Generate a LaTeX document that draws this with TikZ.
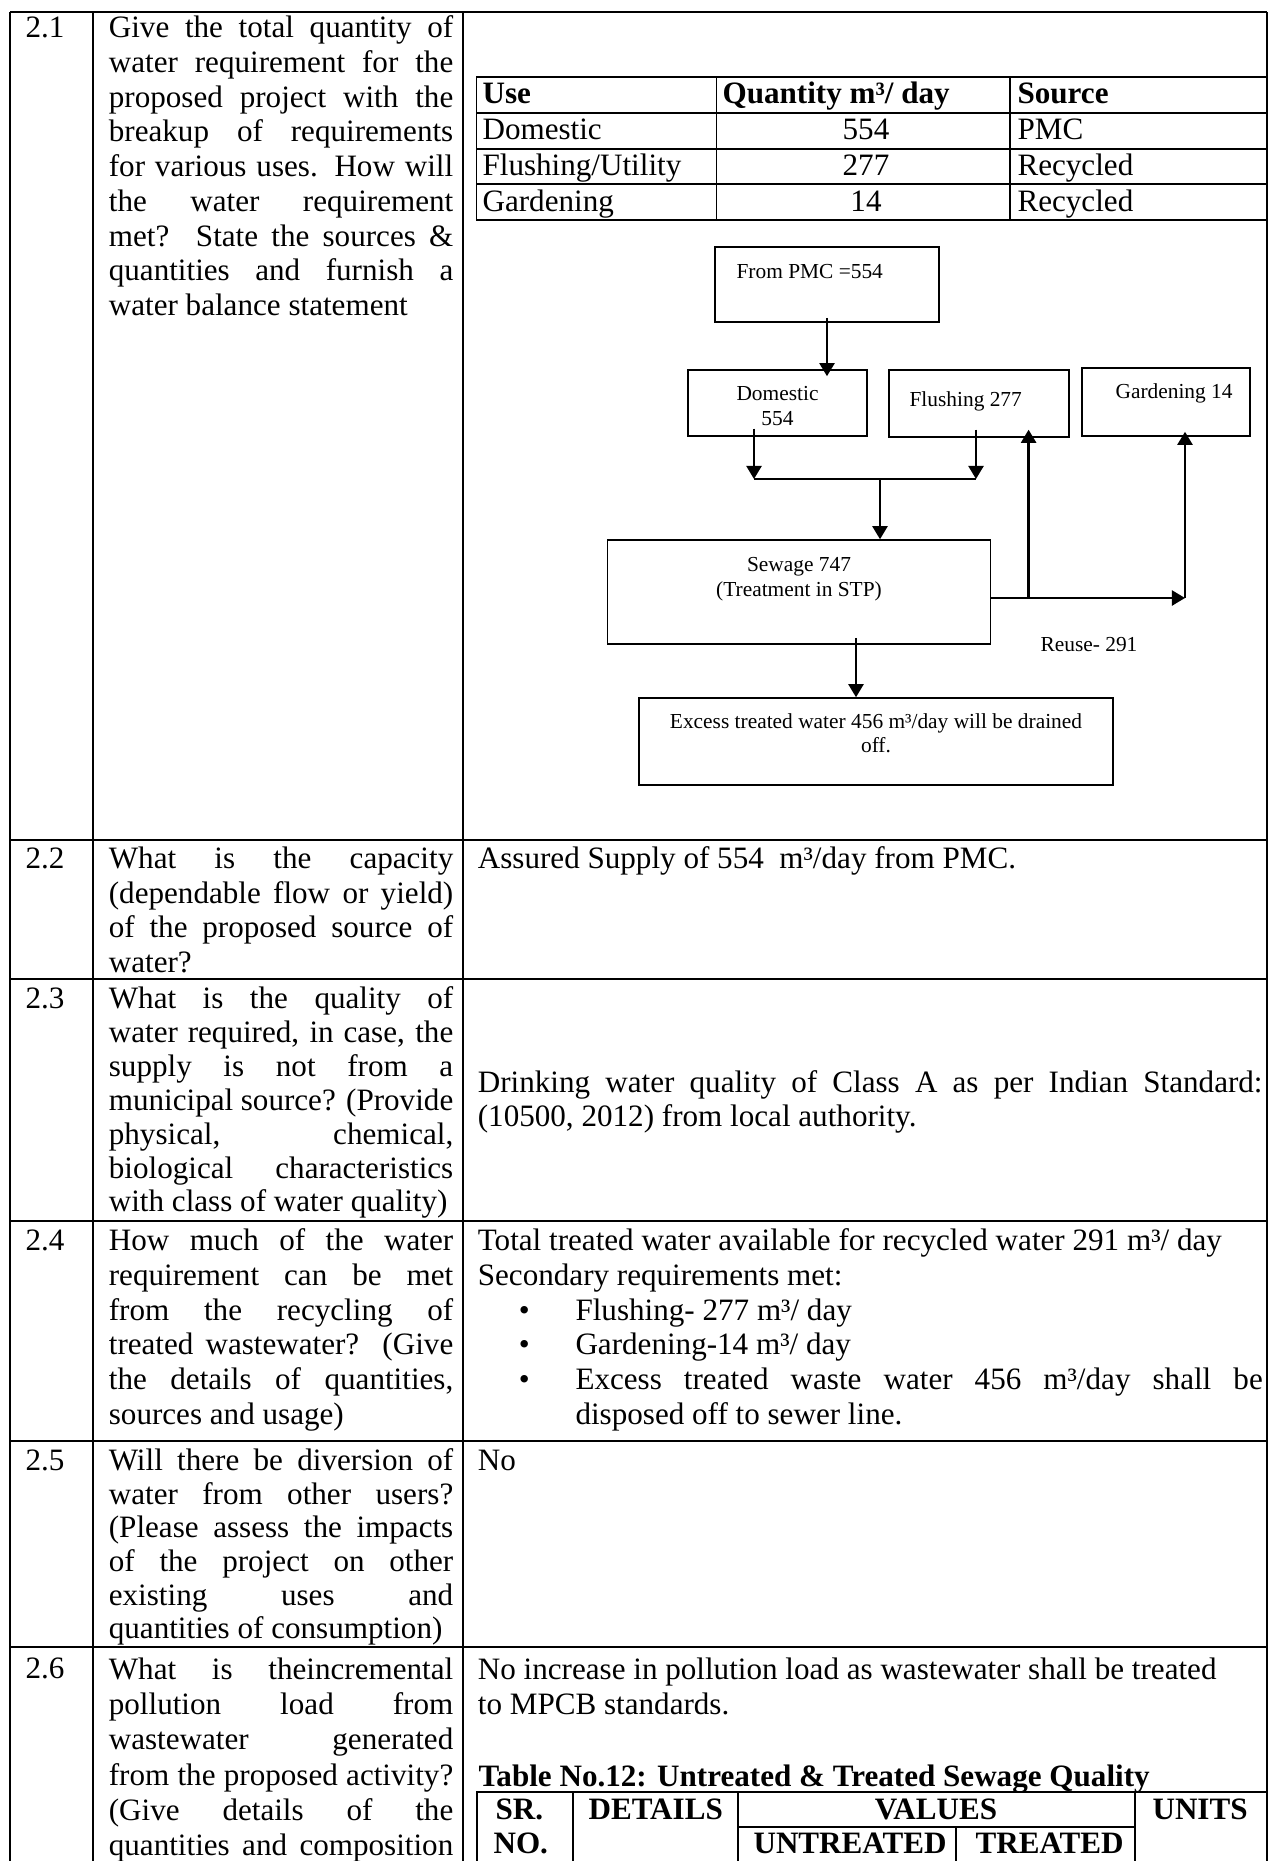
\documentclass[tikz,border=0pt]{standalone}
\usepackage{fontspec}
\setmainfont{Liberation Serif}
\usetikzlibrary{arrows.meta}
\newcommand{\fsA}{\rule{0pt}{9pt}}
\newcommand{\fsB}{\rule{0pt}{6pt}}
\newcommand{\J}[1]{\makebox[124pt][s]{#1}}
\newcommand{\JR}[1]{\makebox[282.5pt][s]{#1}}
\newcommand{\bul}{\makebox[20.4pt][l]{\textbullet}}
\begin{document}
\begin{tikzpicture}[x=0.36pt,y=-0.36pt,
  grid/.style={line width=0.85pt},
  tgrid/.style={line width=0.65pt},
  body/.style={anchor=north west,inner sep=0pt,align=left,font=\fontsize{11.2}{#1}\selectfont},
  body/.default=12.35pt,
  one/.style={anchor=base west,inner sep=0pt,font=\fontsize{11.2}{13}\selectfont},
  oneb/.style={anchor=base west,inner sep=0pt,font=\fontsize{11.2}{13}\selectfont\bfseries},
  onec/.style={anchor=base,inner sep=0pt,font=\fontsize{11.2}{13}\selectfont},
  onecb/.style={anchor=base,inner sep=0pt,font=\fontsize{11.2}{13}\selectfont\bfseries},
  fbox/.style={draw,line width=0.55pt,inner sep=0pt},
  ftxt/.style={inner sep=0pt,font=\fontsize{7.7}{9}\selectfont},
  fmulti/.style={anchor=north,inner sep=0pt,align=center,font=\fontsize{7.7}{#1}\selectfont},
  arr/.style={line width=0.85pt,-{Triangle[length=4.7pt,width=5.4pt]}},
  ln/.style={line width=0.85pt}]
\useasboundingbox (0,0) rectangle (1269,1861);
\fill[white] (0,0) rectangle (1269,1861);

% ---------- outer table ----------
\draw[grid] (10,12) -- (1267,12);
\foreach \y in {840,979,1221,1441,1647} \draw[grid] (10,\y) -- (1267,\y);
\foreach \x in {10,93,463,1267} \draw[grid] (\x,12) -- (\x,1861);

% ---------- column 1 ----------
\node[one] (n21) at (25,37) {2.1};
\node[one] (n22) at (25,868) {2.2};
\node[one] (n23) at (25,1008) {2.3};
\node[one] (n24) at (25,1250) {2.4};
\node[one] (n25) at (25,1470) {2.5};
\node[one] (n26) at (25,1678.6) {2.6};

% ---------- column 2 ----------
\node[body=12.51pt] (q21) at (108.3,12) {\fsA\J{Give the total quantity of}\\\J{water requirement for the}\\\J{proposed project with the}\\\J{breakup of requirements}\\\J{for various uses. How will}\\\J{the water requirement}\\\J{met? State the sources \&}\\\J{quantities and furnish a}\\water balance statement};
\node[body=12.42pt] (q22) at (108.3,843) {\fsA\J{What is the capacity}\\\J{(dependable flow or yield)}\\\J{of the proposed source of}\\water?};
\node[body=12.2pt] (q23) at (108.3,983) {\fsA\J{What is the quality of}\\\J{water required, in case, the}\\\J{supply is not from a}\\\J{municipal source? (Provide}\\\J{physical, chemical,}\\\J{biological characteristics}\\with class of water quality)};
\node[body=12.53pt] (q24) at (108.3,1225) {\fsA\J{How much of the water}\\\J{requirement can be met}\\\J{from the recycling of}\\\J{treated wastewater? (Give}\\\J{the details of quantities,}\\sources and usage)};
\node[body=12.1pt] (q25) at (108.3,1445) {\fsA\J{Will there be diversion of}\\\J{water from other users?}\\\J{(Please assess the impacts}\\\J{of the project on other}\\\J{existing uses and}\\quantities of consumption)};
\node[body=12.7pt] (q26) at (108.3,1653.6) {\fsA\J{What is theincremental}\\\J{pollution load from}\\\J{wastewater generated}\\\J{from the proposed activity?}\\\J{(Give details of the}\\\J{quantities and composition}};

% ---------- column 3 ----------
\node[one] (a22) at (477.3,868) {Assured Supply of 554\ \ m³/day from PMC.};
\node[body=12.24pt] (a23) at (477.3,1067) {\fsA\JR{Drinking water quality of Class A as per Indian Standard:}\\(10500, 2012) from local authority.};
\node[body=12.53pt] (a24) at (477.3,1225) {\fsA Total treated water available for recycled water 291 m³/ day\\Secondary requirements met:\\\hspace*{14.76pt}\bul Flushing- 277 m³/ day\\\hspace*{14.76pt}\bul Gardening-14 m³/ day\\\hspace*{14.76pt}\bul\makebox[247.4pt][s]{Excess treated waste water 456 m³/day shall be}\\\hspace*{35.16pt}disposed off to sewer line.};
\node[one] (a25) at (477.3,1470) {No};
\node[body=12.7pt] (a26) at (477.3,1653.6) {\fsA No increase in pollution load as wastewater shall be treated\\to MPCB standards.};
\node[oneb] (t12) at (478,1786.5) {Table No.12: Untreated \& Treated Sewage Quality};

% ---------- inner table 1 ----------
\draw[tgrid] (476.5,77) rectangle (1266.5,220);
\foreach \y in {113,149,184} \draw[tgrid] (476.5,\y) -- (1266.5,\y);
\foreach \x in {716.5,1010} \draw[tgrid] (\x,77) -- (\x,220);
\node[oneb] (hU) at (482,103) {Use};
\node[oneb] (hQ) at (722,103) {Quantity m³/ day};
\node[oneb] (hS) at (1017,103) {Source};
\node[one] (r1a) at (482,139) {Domestic};
\node[onec] (r1b) at (866,139) {554};
\node[one] (r1c) at (1017,139) {PMC};
\node[one] (r2a) at (482,175) {Flushing/Utility};
\node[onec] (r2b) at (866,175) {277};
\node[one] (r2c) at (1017,175) {Recycled};
\node[one] (r3a) at (482,211) {Gardening};
\node[onec] (r3b) at (866,211) {14};
\node[one] (r3c) at (1017,211) {Recycled};

% ---------- inner table 2 ----------
\draw[tgrid] (476.7,1861) -- (476.7,1792) -- (1266.7,1792) -- (1266.7,1861);
\foreach \x in {573,737.7,1135} \draw[tgrid] (\x,1792) -- (\x,1861);
\draw[tgrid] (737.7,1826.7) -- (1135,1826.7);
\draw[tgrid] (956,1826.7) -- (956,1861);
\node[oneb] (s1) at (495,1819) {SR.};
\node[oneb] (s2) at (493,1853) {NO.};
\node[oneb] (s3) at (588,1819) {DETAILS};
\node[onecb] (s4) at (936,1819) {VALUES};
\node[oneb] (s5) at (753,1853) {UNTREATED};
\node[oneb] (s6) at (975,1853) {TREATED};
\node[oneb] (s7) at (1152,1819) {UNITS};

% ---------- flowchart ----------
\node[fbox,minimum width=80.64pt,minimum height=27pt] (pmc) at (827,284.5) {};
\node[fbox,minimum width=64.44pt,minimum height=23.76pt] (dom) at (777.5,403) {};
\node[fbox,minimum width=64.8pt,minimum height=24.12pt] (fl) at (979,403.5) {};
\node[fbox,minimum width=60.48pt,minimum height=24.48pt] (gar) at (1166,402) {};
\node[fbox,minimum width=137.84pt,minimum height=37.44pt] (sew) at (799,592) {};
\node[fbox,minimum width=170.64pt,minimum height=31.32pt] (exc) at (876,741.5) {};

\node[ftxt,anchor=base west] (tpmc) at (736,278) {From PMC =554};
\node[fmulti=9pt] (tdom) at (777.5,383.3) {\fsB Domestic\\554};
\node[ftxt,anchor=base west] (tfl) at (909,406.7) {Flushing 277};
\node[ftxt,anchor=base west] (tgar) at (1115,398) {Gardening 14};
\node[fmulti=9.1pt] (tsew) at (799,554) {\fsB Sewage 747\\(Treatment in STP)};
\node[fmulti=8.5pt] (texc) at (876,711.3) {\fsB Excess treated water 456 m³/day will be drained\\off.};
\node[ftxt,anchor=base west] (treu) at (1040,651.7) {Reuse- 291};

\coordinate (jL) at (754,479);
\coordinate (jR) at (976,479);
\coordinate (jM) at (880,479);
\coordinate (sx) at (856,670);
\coordinate (rF) at (1028.6,598);
\coordinate (rG) at (1185,598);

\draw[arr,shorten <=-1.8pt,shorten >=-2.5pt] (pmc.south) -- (pmc.south |- dom.north);
\draw[arr,shorten <=-2.9pt] (dom.south -| jL) -- (jL);
\draw[arr,shorten <=-2.9pt] (fl.south -| jR) -- (jR);
\draw[ln] (jL) -- (jR);
\draw[arr] (jM) -- (sew.north -| jM);
\draw[arr,shorten <=-2.5pt] (sew.south -| sx) -- (exc.north -| sx);
\draw[arr] (sew.east |- rF) -- (rG);
\draw[arr,shorten >=-1.8pt] (rG) -- (gar.south -| rG);
\draw[arr,shorten >=-2.9pt] (rF) -- (fl.south -| rF);
\end{tikzpicture}
\end{document}
